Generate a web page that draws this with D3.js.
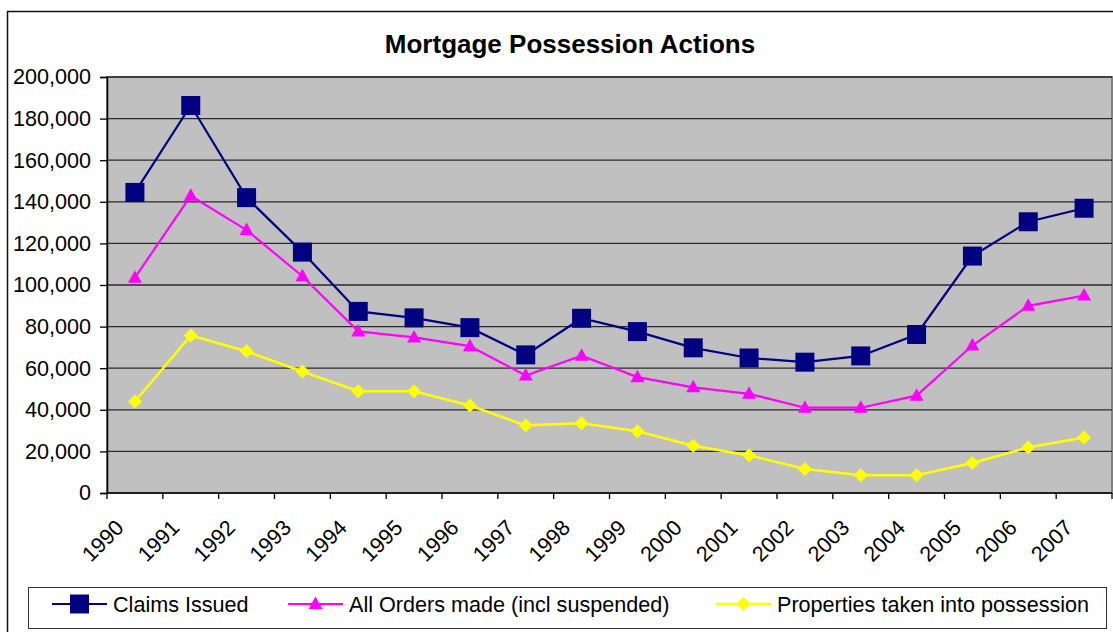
<!DOCTYPE html>
<html>
<head>
<meta charset="utf-8">
<script src="https://cdn.jsdelivr.net/npm/d3@7"></script>
<style>
  body { margin: 0; background: #fff; }
  svg { display: block; font-family: "Liberation Sans", Arial, sans-serif; }
</style>
</head>
<body>
<div id="chart"></div>
<script>
const years = ["1990","1991","1992","1993","1994","1995","1996","1997","1998",
               "1999","2000","2001","2002","2003","2004","2005","2006","2007"];
const claimsIssued = [144500, 186300, 142000, 115800, 87300, 84200, 79500, 66400, 84000,
                      77600, 69800, 64900, 62900, 65900, 76200, 113900, 130400, 136900];
const ordersMade = [103500, 142900, 126400, 104200, 77700, 74800, 70600, 56500, 66000,
                    55700, 50800, 47700, 41000, 41000, 46800, 70900, 90000, 94900];
const possessions = [44000, 75700, 68100, 58400, 48900, 48900, 42100, 32500, 33500,
                     29700, 22700, 18100, 11500, 8500, 8500, 14400, 21900, 26700];
const yTicks = [0, 20000, 40000, 60000, 80000, 100000, 120000, 140000, 160000, 180000, 200000];

const series = [
  {name: "Claims Issued", values: claimsIssued, color: "#000080", width: 2.2, marker: "square"},
  {name: "All Orders made (incl suspended)", values: ordersMade, color: "#FF00FF", width: 2.2, marker: "triangle"},
  {name: "Properties taken into possession", values: possessions, color: "#FFFF00", width: 2.6, marker: "diamond"}
];

const width = 1113, height = 632;
const plot = {left: 107, top: 77, right: 1112, bottom: 493};
const fontSize = 21.6;

const svg = d3.select("#chart").append("svg")
    .attr("width", width)
    .attr("height", height);

// outer chart frame (runs off the right/bottom of the picture)
svg.append("rect")
    .attr("x", 7.5).attr("y", 11.5)
    .attr("width", 1120).attr("height", 640)
    .attr("fill", "#fff").attr("stroke", "#111").attr("stroke-width", 1.5);

svg.append("text")
    .attr("x", 570).attr("y", 53)
    .attr("text-anchor", "middle")
    .attr("font-size", 26).attr("font-weight", "bold")
    .text("Mortgage Possession Actions");

const x = d3.scaleBand().domain(years).range([plot.left, plot.right]).padding(0);
const y = d3.scaleLinear().domain([0, 200000]).range([plot.bottom, plot.top]);
const cx = d => x(d) + x.bandwidth() / 2;

// plot background
svg.append("rect")
    .attr("x", plot.left).attr("y", plot.top)
    .attr("width", plot.right - plot.left).attr("height", plot.bottom - plot.top)
    .attr("fill", "#C0C0C0").attr("stroke", "#808080").attr("stroke-width", 2);

// gridlines
svg.append("g").selectAll("line")
    .data(yTicks.filter(d => d > 0))
    .enter().append("line")
    .attr("x1", plot.left).attr("x2", plot.right)
    .attr("y1", d => y(d)).attr("y2", d => y(d))
    .attr("stroke", "#2a2a2a").attr("stroke-width", 1.3);

// y axis
const yAxis = svg.append("g")
    .attr("transform", `translate(${plot.left},0)`)
    .call(d3.axisLeft(y).tickValues(yTicks).tickSize(7).tickPadding(9).tickFormat(d3.format(",")));
yAxis.select(".domain").attr("stroke", "#000").attr("stroke-width", 1.5);
yAxis.selectAll(".tick line").attr("stroke", "#000").attr("stroke-width", 1.3);
yAxis.selectAll("text").attr("font-size", fontSize).attr("fill", "#000")
    .attr("font-family", "'Liberation Sans', Arial, sans-serif");

// x axis: ticks at category boundaries, labels rotated 45deg
const xAxis = svg.append("g");
xAxis.append("line")
    .attr("x1", plot.left).attr("x2", plot.right)
    .attr("y1", plot.bottom).attr("y2", plot.bottom)
    .attr("stroke", "#000").attr("stroke-width", 1.5);
const bounds = years.map(d => x(d)).concat([x.range()[1]]);
xAxis.selectAll(".xtick")
    .data(bounds)
    .enter().append("line")
    .attr("class", "xtick")
    .attr("x1", d => d).attr("x2", d => d)
    .attr("y1", plot.bottom).attr("y2", plot.bottom + 6)
    .attr("stroke", "#000").attr("stroke-width", 1.3);
xAxis.selectAll(".xlabel")
    .data(years)
    .enter().append("text")
    .attr("class", "xlabel")
    .attr("text-anchor", "end")
    .attr("font-size", fontSize)
    .attr("transform", d => `translate(${cx(d) - 10},${529}) rotate(-45)`)
    .text(d => d);

function markerPath(type) {
  if (type === "square") return d3.symbol(d3.symbolSquare, 19 * 19)();
  if (type === "triangle") return "M0,-7.5L7,5L-7,5Z";
  return "M0,-7L7,0L0,7L-7,0Z";
}

const line = d3.line().x((d, i) => cx(years[i])).y(d => y(d));

series.forEach(s => {
  const g = svg.append("g");
  g.append("path")
      .datum(s.values)
      .attr("d", line)
      .attr("fill", "none")
      .attr("stroke", s.color)
      .attr("stroke-width", s.width);
  g.selectAll("path.mk")
      .data(s.values)
      .enter().append("path")
      .attr("class", "mk")
      .attr("d", markerPath(s.marker))
      .attr("transform", (d, i) => `translate(${cx(years[i])},${y(d)})`)
      .attr("fill", s.color);
});

// legend
const legend = svg.append("g");
legend.append("rect")
    .attr("x", 28.5).attr("y", 587.5)
    .attr("width", 1078).attr("height", 41)
    .attr("fill", "#fff").attr("stroke", "#333").attr("stroke-width", 1);
const legendX = [52, 288, 716];
series.forEach((s, i) => {
  const lx = legendX[i], ly = 604;
  legend.append("line")
      .attr("x1", lx).attr("x2", lx + 55)
      .attr("y1", ly).attr("y2", ly)
      .attr("stroke", s.color).attr("stroke-width", s.width);
  legend.append("path")
      .attr("d", markerPath(s.marker))
      .attr("transform", `translate(${lx + 27.5},${ly})`)
      .attr("fill", s.color);
  legend.append("text")
      .attr("x", lx + 61).attr("y", ly + 7.5)
      .attr("font-size", fontSize)
      .text(s.name);
});
</script>
</body>
</html>
